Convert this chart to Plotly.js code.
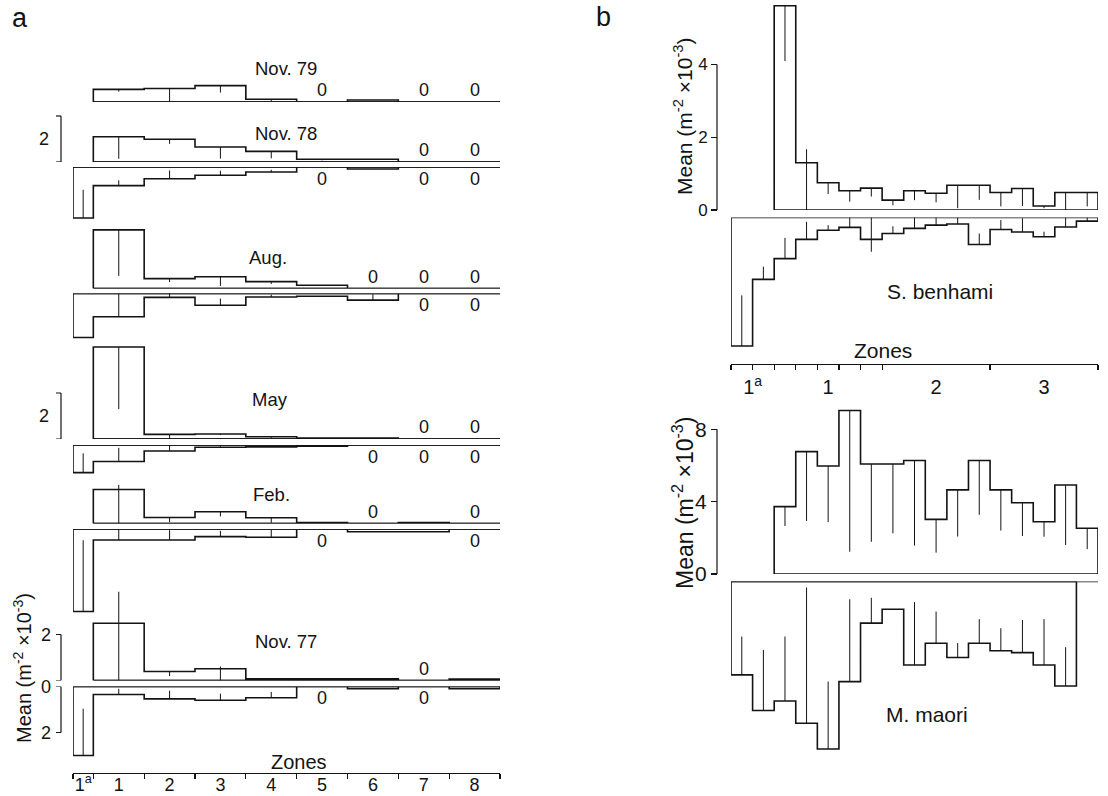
<!DOCTYPE html>
<html><head><meta charset="utf-8">
<script src="https://cdn.plot.ly/plotly-3.0.1.min.js"></script>
<style>html,body{margin:0;padding:0;background:#fff}#chart{width:1108px;height:796px}</style>
</head><body><div id="chart"></div>
<script>
// ---------------- DATA (means, m^-2 x10^-3) ----------------
// Panel a: zones
const zonesA = ['1<sup>a</sup>', '1', '2', '3', '4', '5', '6', '7', '8'];
// upper histograms: zones 1..8 ; lower histograms: zones 1a..8
// "Err" = error bar drawn toward the baseline, "ErrOut" = away from it
const nov79Up     = [0.55, 0.59, 0.71, 0.12, 0, 0.09, 0, 0];
const nov79UpErr  = [0.10, 0.60, 0.30, 0.10, 0, 0, 0, 0];

const nov78Up     = [1.10, 0.99, 0.65, 0.46, 0.12, 0.12, 0, 0];
const nov78UpErr  = [0.96, 0.20, 0.50, 0.30, 0.05, 0, 0, 0];
const nov78Lo     = [2.22, 0.81, 0.51, 0.36, 0.22, 0, 0.09, 0, 0];
const nov78LoErr  = [1.23, 0.23, 0.36, 0.20, 0.10, 0, 0, 0, 0];

const augUp       = [2.55, 0.43, 0.51, 0.30, 0.14, 0, 0, 0];
const augUpErr    = [2.00, 0.15, 0.40, 0.10, 0, 0, 0, 0];
const augLo       = [1.91, 1.01, 0.17, 0.51, 0.15, 0.12, 0.29, 0, 0];
const augLoErr    = [0, 1.01, 0.26, 0.29, 0.10, 0, 0.26, 0, 0];

const mayUp       = [4.00, 0.20, 0.22, 0.10, 0.04, 0.04, 0, 0];
const mayUpErr    = [2.70, 0.20, 0.05, 0.05, 0, 0, 0, 0];
const mayLo       = [1.20, 0.72, 0.26, 0.10, 0.08, 0.05, 0, 0, 0];
const mayLoErr    = [0.84, 0.60, 0.26, 0.05, 0, 0, 0, 0, 0];

const febUp       = [1.48, 0.26, 0.51, 0.25, 0.04, 0, 0.04, 0];
const febUpErr    = [1.48, 0.20, 0.20, 0.22, 0, 0, 0, 0];
const febUpErrOut = [0.20, 0, 0, 0, 0, 0, 0, 0];
const febLo       = [3.59, 0.48, 0.48, 0.33, 0.36, 0, 0.12, 0.12, 0];
const febLoErr    = [3.10, 0.48, 0.43, 0.25, 0.32, 0, 0, 0, 0];

const nov77Up     = [2.49, 0.39, 0.51, 0.07, 0.07, 0.07, 0, 0.06];
const nov77UpErr  = [2.49, 0.20, 0.51, 0, 0, 0, 0, 0];
const nov77UpErrOut = [1.37, 0, 0.10, 0, 0, 0, 0, 0];
const nov77Lo     = [3.00, 0.35, 0.54, 0.60, 0.49, 0, 0.10, 0, 0.10];
const nov77LoErr  = [2.03, 0.25, 0.36, 0.29, 0.25, 0, 0, 0, 0];

const periodNames = ['Nov. 79', 'Nov. 78', 'Aug.', 'May', 'Feb.', 'Nov. 77'];

// Panel b: zones 1a, 1, 2, 3 split into sub-zone bins (2 + 5 + 5 + 5)
const zonesB = ['1<sup>a</sup>', '1', '2', '3'];
const binsPerZoneB = [2, 5, 5, 5];
// upper: from zone 1 onward; lower: from the first 1a bin
const benhamiUp     = [5.61, 1.30, 0.75, 0.53, 0.60, 0.27, 0.53, 0.46, 0.68, 0.68, 0.48, 0.59, 0.11, 0.48, 0.48];
const benhamiUpErr  = [1.52, 1.30, 0.31, 0.30, 0.23, 0.14, 0.26, 0.25, 0.63, 0.40, 0.38, 0.48, 0.06, 0.48, 0.38];
const benhamiUpErrOut = [0, 0.37, 0, 0, 0, 0, 0, 0, 0, 0, 0, 0, 0, 0, 0];
const benhamiLo     = [3.53, 1.70, 1.13, 0.60, 0.35, 0.27, 0.60, 0.44, 0.30, 0.21, 0.18, 0.74, 0.33, 0.40, 0.53, 0.26, 0.10];
const benhamiLoErr  = [1.39, 0.35, 0.57, 0.48, 0.14, 0.27, 0.60, 0.20, 0.30, 0.21, 0.18, 0.30, 0.26, 0.38, 0.14, 0.26, 0.10];
const benhamiLoErrOut = [0, 0, 0, 0, 0, 0, 0.34, 0, 0, 0, 0, 0, 0, 0, 0, 0, 0];

const maoriUp     = [3.72, 6.76, 5.97, 9.03, 6.08, 6.08, 6.27, 3.02, 4.65, 6.27, 4.65, 3.94, 2.89, 4.92, 2.53];
const maoriUpErr  = [1.07, 3.83, 3.10, 7.80, 4.30, 3.83, 4.70, 1.84, 2.58, 3.00, 2.25, 1.84, 0.83, 3.32, 1.16];
const maoriLo     = [5.16, 7.13, 6.60, 7.83, 9.25, 5.53, 2.30, 1.53, 4.61, 3.41, 4.20, 3.41, 3.83, 3.93, 4.61, 5.77];
const maoriLoErr  = [2.12, 3.35, 3.56, 7.50, 3.72, 4.55, 1.40, 0, 3.47, 1.75, 0.80, 1.33, 1.25, 1.80, 2.53, 2.14];

const speciesNames = ['S. benhami', 'M. maori'];

// ---------------- LAYOUT HELPERS ----------------
const W = 1108, H = 796;
const fx = p => p / W, fy = p => 1 - p / H;
const INK = '#131313';
const FONT = 'Liberation Sans, Arial, Helvetica, sans-serif';

// panel a x scale: zone 1a drawn narrower than the other zones
const widthA = zonesA.map((z, i) => i === 0 ? 0.4 : 1);
const edgesA = [-0.4];
widthA.forEach(w => edgesA.push(edgesA[edgesA.length - 1] + w));
const centersA = zonesA.map((z, i) => (edgesA[i] + edgesA[i + 1]) / 2);

// panel b x scale: one unit per sub-zone bin
const edgesB = [0];
binsPerZoneB.forEach(n => { for (let k = 0; k < n; k++) edgesB.push(edgesB[edgesB.length - 1] + 1); });
const zoneStartB = []; { let s = 0; binsPerZoneB.forEach(n => { zoneStartB.push(s); s += n; }); }
const zoneEdgesB = zoneStartB.concat([edgesB[edgesB.length - 1]]);
const labelPosB = binsPerZoneB.map((n, i) => zoneStartB[i] + n / 2);
const minorB = [];
edgesB.forEach(e => { if (e <= zoneStartB[2] || zoneEdgesB.includes(e)) minorB.push(e); });

const traces = [], annotations = [], shapes = [];
const layout = {
  width: W, height: H, margin: {l: 0, r: 0, t: 0, b: 0},
  paper_bgcolor: '#fff', plot_bgcolor: 'rgba(0,0,0,0)',
  showlegend: false, hovermode: false,
  font: {family: FONT, color: INK, size: 18},
};

function note(o) {
  annotations.push(Object.assign({xref: 'paper', yref: 'paper', showarrow: false,
    xanchor: 'center', yanchor: 'middle', font: {size: 18}}, o));
}

let nAx = 0;
function newY(kind, px, ppu, max, posPx, extra) {
  nAx++;
  const key = nAx === 1 ? 'yaxis' : 'yaxis' + nAx;
  const ref = nAx === 1 ? 'y' : 'y' + nAx;
  let dom, range;
  if (kind === 'up') { dom = [fy(px), fy(px - max * ppu)]; range = [0, max]; }
  else { dom = [fy(px + max * ppu), fy(px)]; range = [max, 0]; }
  dom = dom.map(v => Math.min(1, Math.max(0, v)));
  layout[key] = Object.assign({
    domain: dom, range: range, anchor: 'free', position: fx(posPx),
    visible: false, showgrid: false, zeroline: false, showline: false, fixedrange: true
  }, extra || {});
  return ref;
}

function hist(xref, yref, edges, vals, errIn, errOut, lw) {
  const n = vals.length;
  const x = [edges[0]], y = [0];
  vals.forEach((v, i) => { x.push(edges[i]); y.push(v); });
  x.push(edges[n]); y.push(vals[n - 1]);
  x.push(edges[n]); y.push(0);
  x.push(edges[0]); y.push(0);
  traces.push({type: 'scatter', mode: 'lines', x, y, xaxis: xref, yaxis: yref,
    line: {shape: 'hv', color: INK, width: lw || 1.6}, hoverinfo: 'skip'});
  const cx = vals.map((v, i) => (edges[i] + edges[i + 1]) / 2);
  traces.push({type: 'scatter', mode: 'markers', x: cx, y: vals, xaxis: xref, yaxis: yref,
    marker: {size: 1, color: 'rgba(0,0,0,0)'},
    error_y: {type: 'data', symmetric: false, array: errOut || vals.map(() => 0),
      arrayminus: errIn, color: INK, thickness: 1, width: 0},
    hoverinfo: 'skip'});
}
function zeroLabels(xref, yref, centers, vals) {
  vals.forEach((v, i) => {
    if (v === 0) note({x: centers[i], y: 0.52, xref, yref: yref, text: '0'});
  });
}
function baseline(xref, yref, x0, x1) {
  traces.push({type: 'scatter', mode: 'lines', x: [x0, x1], y: [0, 0], xaxis: xref, yaxis: yref,
    line: {color: INK, width: 1.3}, hoverinfo: 'skip'});
}
function bracket(yref, xPx, ticksAt, ticklen) {
  const lo = Math.min(...ticksAt), hi = Math.max(...ticksAt);
  shapes.push({type: 'line', xref: 'paper', yref: yref, x0: fx(xPx), x1: fx(xPx), y0: lo, y1: hi,
    line: {color: INK, width: 1.2}});
  ticksAt.forEach(v => shapes.push({type: 'line', xref: 'paper', yref: yref,
    x0: fx(xPx - ticklen), x1: fx(xPx), y0: v, y1: v, line: {color: INK, width: 1.2}}));
}

// ---------------- PANEL A ----------------
const PPU_A = 23, AX_A = 61;
const upEdges = edgesA.slice(1), upCenters = centersA.slice(1);

const panelA = [
  {vals: nov79Up, err: nov79UpErr, kind: 'up', px: 102, max: 1.6},
  {vals: nov78Up, err: nov78UpErr, kind: 'up', px: 162, max: 2.3, brk: true},
  {vals: nov78Lo, err: nov78LoErr, kind: 'lo', px: 167, max: 2.5},
  {vals: augUp, err: augUpErr, kind: 'up', px: 288.5, max: 2.8},
  {vals: augLo, err: augLoErr, kind: 'lo', px: 293.5, max: 2.2},
  {vals: mayUp, err: mayUpErr, kind: 'up', px: 439, max: 4.2, brk: true},
  {vals: mayLo, err: mayLoErr, kind: 'lo', px: 445, max: 1.5},
  {vals: febUp, err: febUpErr, out: febUpErrOut, kind: 'up', px: 523.5, max: 1.9},
  {vals: febLo, err: febLoErr, kind: 'lo', px: 529, max: 3.8},
  {vals: nov77Up, err: nov77UpErr, out: nov77UpErrOut, kind: 'up', px: 680.5, max: 4.0, labels: [2]},
  {vals: nov77Lo, err: nov77LoErr, kind: 'lo', px: 686.5, max: 3.3, labels: [0, 2]},
];
panelA.forEach(p => {
  const yr = newY(p.kind, p.px, PPU_A, p.max, AX_A);
  const edges = p.kind === 'up' ? upEdges : edgesA;
  const centers = p.kind === 'up' ? upCenters : centersA;
  hist('x', yr, edges, p.vals, p.err, p.out);
  baseline('x', yr, p.kind === 'up' ? edgesA[1] : edgesA[0], edgesA[edgesA.length - 1]);
  zeroLabels('x', yr, centers, p.vals);
  if (p.brk || p.labels) bracket(yr, AX_A, [0, 2], 5);
  if (p.brk) note({x: fx(44), y: 1, yref: yr, text: '2'});
  if (p.labels) p.labels.forEach(v => note({x: fx(AX_A - 8), y: v, yref: yr, text: String(v), xanchor: 'right'}));
});

// period titles
const periodPos = [[286, 68], [286, 133], [268, 257], [270, 399], [271, 494], [286, 641]];
periodNames.forEach((t, i) => note({x: fx(periodPos[i][0]), y: fy(periodPos[i][1]), text: t, font: {size: 18.5}}));

layout.xaxis = {domain: [fx(73), fx(500)], range: [edgesA[0], edgesA[edgesA.length - 1]],
  anchor: 'free', position: fy(773), showline: true, linecolor: INK, linewidth: 1.2,
  showgrid: false, zeroline: false, tickmode: 'array', tickvals: centersA, ticktext: zonesA,
  ticks: '', tickfont: {size: 18}, ticklabelstandoff: -5, fixedrange: true,
  minor: {tickmode: 'array', tickvals: edgesA, ticks: 'outside', ticklen: 5, tickwidth: 1.2, tickcolor: INK, showgrid: false}};

// ---------------- PANEL B ----------------
const PPU_SB = 36.4, PPU_MM = 18.1, AX_B = 717;
const upEdgesB = edgesB.slice(zoneStartB[1]);
const ySbU = newY('up', 210, PPU_SB, 5.75, AX_B, {visible: true, tickmode: 'array', tickvals: [0, 2, 4],
  ticks: 'outside', ticklen: 6, tickwidth: 1.2, tickcolor: INK, tickfont: {size: 17}});
const ySbL = newY('lo', 217.5, PPU_SB, 3.8, AX_B);
const yMmU = newY('up', 574, PPU_MM, 10, AX_B, {visible: true, tickmode: 'array', tickvals: [0, 4, 8],
  ticks: 'outside', ticklen: 6, tickwidth: 1.2, tickcolor: INK, tickfont: {size: 21}});
const yMmL = newY('lo', 581.5, PPU_MM, 10, AX_B);

hist('x2', ySbU, upEdgesB, benhamiUp, benhamiUpErr, benhamiUpErrOut);
hist('x2', ySbL, edgesB, benhamiLo, benhamiLoErr, benhamiLoErrOut);
hist('x2', yMmU, upEdgesB, maoriUp, maoriUpErr);
hist('x2', yMmL, edgesB, maoriLo, maoriLoErr);
baseline('x2', yMmL, edgesB[0], edgesB[edgesB.length - 1]);
shapes.push({type: 'line', xref: 'paper', yref: ySbU, x0: fx(AX_B), x1: fx(AX_B), y0: 0, y1: 4, line: {color: INK, width: 1.2}});
shapes.push({type: 'line', xref: 'paper', yref: yMmU, x0: fx(AX_B), x1: fx(AX_B), y0: 0, y1: 8, line: {color: INK, width: 1.2}});

layout.xaxis2 = {domain: [fx(731), fx(1098)], range: [edgesB[0], edgesB[edgesB.length - 1]],
  anchor: 'free', position: fy(364), showline: true, linecolor: INK, linewidth: 1.2,
  showgrid: false, zeroline: false, tickmode: 'array', tickvals: labelPosB.map((v, i) => i === 0 ? zoneStartB[0] + 1 : v),
  ticktext: zonesB, ticks: '', tickfont: {size: 20}, ticklabelstandoff: 5, fixedrange: true,
  minor: {tickmode: 'array', tickvals: minorB, ticks: 'outside', ticklen: 5, tickwidth: 1.2, tickcolor: INK, showgrid: false}};

const meanTitle = 'Mean (m<sup>-2</sup> ×10<sup>-3</sup>)';
note({x: fx(940), y: fy(292), text: speciesNames[0], font: {size: 21}});
note({x: fx(927), y: fy(714), text: speciesNames[1], font: {size: 21}});
note({x: fx(299), y: fy(762), text: 'Zones', font: {size: 20}});
note({x: fx(883), y: fy(351), text: 'Zones', font: {size: 21}});
note({x: fx(20), y: fy(18), text: 'a', font: {size: 27}});
note({x: fx(603), y: fy(17), text: 'b', font: {size: 27}});
note({x: fx(22), y: fy(668), text: meanTitle, textangle: -90, font: {size: 20}});
note({x: fx(683), y: fy(117), text: meanTitle, textangle: -90, font: {size: 21}});
note({x: fx(683), y: fy(503), text: meanTitle, textangle: -90, font: {size: 23}});

layout.annotations = annotations;
layout.shapes = shapes;
Plotly.newPlot('chart', traces, layout, {staticPlot: true, displayModeBar: false});
</script></body></html>
